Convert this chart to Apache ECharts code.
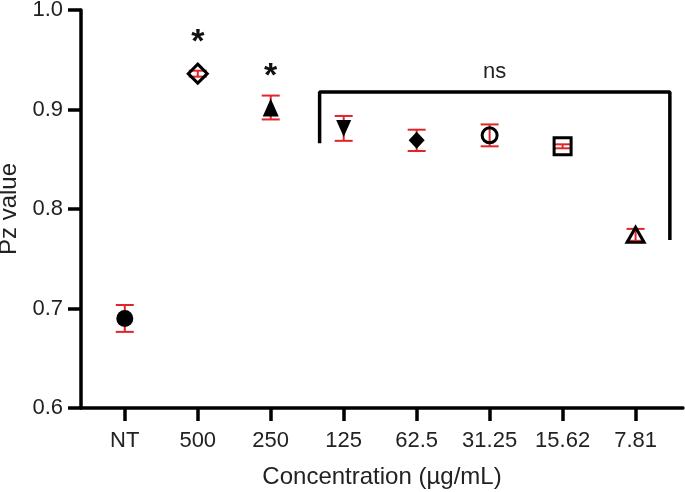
<!DOCTYPE html>
<html>
<head>
<meta charset="utf-8">
<script src="https://cdn.jsdelivr.net/npm/echarts@6/dist/echarts.min.js"></script>
<style>html,body{margin:0;padding:0;background:#fff}#c{width:685px;height:492px}</style>
</head>
<body>
<div id="c"></div>
<script>
// ---- data ----
const categories = ['NT', '500', '250', '125', '62.5', '31.25', '15.62', '7.81'];
const means = [0.690, 0.936, 0.902, 0.881, 0.869, 0.874, 0.863, 0.774];
const errors = [0.0135, 0.003, 0.012, 0.0125, 0.0107, 0.011, 0.002, 0.006];
const yTicks = [0.6, 0.7, 0.8, 0.9, 1.0];
// annotations (data coordinates)
const starMarks = [[1, 0.967], [2, 0.933]];
const bracketPts = [[2.67, 0.866], [2.67, 0.9176], [7.47, 0.9176], [7.47, 0.7688]];
const nsMark = [[5.07, 0.9377]];

// ---- styles ----
const RED = '#e2252b';
const markerStyles = [
  { symbol: 'circle', size: 17, filled: true },
  { symbol: 'diamond', size: [19, 19], filled: false },
  { symbol: 'triangle', size: [16, 18], filled: true },
  { symbol: 'triangle', size: [15, 17], filled: true, rotate: 180 },
  { symbol: 'diamond', size: [16, 17], filled: true },
  { symbol: 'circle', size: 15, filled: false },
  { symbol: 'rect', size: 17, filled: false },
  { symbol: 'triangle', size: [17, 15], filled: false }
];

const chart = echarts.init(document.getElementById('c'), null, { renderer: 'canvas' });
const FONT = 'Liberation Sans, Arial, sans-serif';
const idx = categories.map((_, i) => i);

const series = [];
series.push({
  type: 'custom',
  z: 2,
  data: means.map((m, i) => [i, m, errors[i]]),
  renderItem: function (params, api) {
    const x = api.value(0), y = api.value(1), e = api.value(2);
    const t = api.coord([x, y + e]), b = api.coord([x, y - e]);
    const hw = 9;
    const st = { stroke: RED, lineWidth: 2, fill: null };
    return {
      type: 'group',
      children: [
        { type: 'line', shape: { x1: t[0], y1: t[1], x2: b[0], y2: b[1] }, style: st },
        { type: 'line', shape: { x1: t[0] - hw, y1: t[1], x2: t[0] + hw, y2: t[1] }, style: st },
        { type: 'line', shape: { x1: b[0] - hw, y1: b[1], x2: b[0] + hw, y2: b[1] }, style: st }
      ]
    };
  }
});
means.forEach((m, i) => {
  const s = markerStyles[i];
  series.push({
    type: 'scatter',
    z: 3,
    symbol: s.symbol,
    symbolSize: s.size,
    symbolRotate: s.rotate || 0,
    data: [[i, m]],
    itemStyle: s.filled
      ? { color: '#000', borderWidth: 0, opacity: 1 }
      : { color: 'rgba(0,0,0,0)', borderColor: '#000', borderWidth: 3, opacity: 1 },
    silent: true
  });
});
series.push({
  type: 'line',
  z: 4,
  data: bracketPts,
  symbol: 'none',
  lineStyle: { color: '#000', width: 3.5 },
  silent: true
});
series.push({
  type: 'scatter',
  z: 5,
  symbol: 'circle',
  symbolSize: 1,
  itemStyle: { color: 'rgba(0,0,0,0)', opacity: 1 },
  data: starMarks,
  label: { show: true, formatter: '*', position: 'inside', color: '#111', fontFamily: FONT, fontSize: 34, fontWeight: 'bold' },
  labelLayout: { hideOverlap: false },
  silent: true
});
series.push({
  type: 'scatter',
  z: 5,
  symbol: 'circle',
  symbolSize: 1,
  itemStyle: { color: 'rgba(0,0,0,0)', opacity: 1 },
  data: nsMark,
  label: { show: true, formatter: 'ns', position: 'inside', color: '#222', fontFamily: FONT, fontSize: 22 },
  labelLayout: { hideOverlap: false },
  silent: true
});

chart.setOption({
  animation: false,
  backgroundColor: '#fff',
  grid: { left: 81, right: 2, top: 10, bottom: 84, containLabel: false, outerBoundsMode: 'none' },
  xAxis: {
    type: 'value',
    min: -0.6,
    max: 7.65,
    splitLine: { show: false },
    axisLine: { onZero: false, lineStyle: { color: '#000', width: 3.5 } },
    axisTick: { show: true, customValues: idx, length: 13, lineStyle: { color: '#000', width: 3.5 } },
    axisLabel: {
      customValues: idx,
      formatter: v => categories[Math.round(v)],
      color: '#222', fontFamily: FONT, fontSize: 22, margin: 22
    },
    name: 'Concentration (µg/mL)',
    nameLocation: 'middle',
    nameGap: 57,
    nameTextStyle: { color: '#222', fontFamily: FONT, fontSize: 24 }
  },
  yAxis: {
    type: 'value',
    min: yTicks[0],
    max: yTicks[yTicks.length - 1],
    interval: 0.1,
    splitLine: { show: false },
    axisLine: { show: true, onZero: false, lineStyle: { color: '#000', width: 3.5 } },
    axisTick: { show: true, length: 13, lineStyle: { color: '#000', width: 3.5 } },
    axisLabel: {
      formatter: v => v.toFixed(1),
      color: '#222', fontFamily: FONT, fontSize: 22, margin: 18,
      showMinLabel: true, showMaxLabel: true
    },
    name: 'Pz value',
    nameLocation: 'middle',
    nameGap: 55,
    nameTextStyle: { color: '#222', fontFamily: FONT, fontSize: 24 }
  },
  series: series
});
</script>
</body>
</html>
